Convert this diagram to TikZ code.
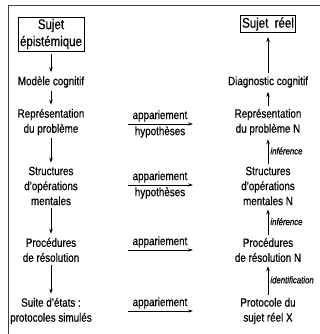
\documentclass[tikz,border=0pt]{standalone}
\usepackage{fontspec}
\setmainfont{Liberation Sans}[FakeStretch=0.82,FakeBold=0.5]
\usetikzlibrary{arrows.meta}
\begin{document}
\begin{tikzpicture}[x=1pt,y=-1pt,
  txt/.style={align=center,font=\fontsize{12}{15}\selectfont,inner sep=0pt},
  big/.style={align=center,font=\fontsize{14}{17}\selectfont,draw,line width=0.9pt,inner sep=2pt},
  arr/.style={-{Stealth[length=5pt,width=3.5pt]},line width=0.8pt,shorten <=3pt,shorten >=4pt},
  harr/.style={-{Stealth[length=5pt,width=3pt]},line width=0.6pt},
  lab/.style={font=\fontsize{9.5}{10}\selectfont\itshape,right,inner sep=2pt}]
\useasboundingbox (0,0) rectangle (320,334);
\clip (0,0) rectangle (320,334);
\draw[line width=1pt,black!75] (8,334) -- (8,6) -- (320,6);
% left column
\node[big] (se) at (51,34) {Sujet\\épistémique};
\node[txt] (mc) at (51,82) {Modèle cognitif};
\node[txt] (rp) at (51,122) {Représentation\\du problème};
\node[txt] (so) at (51,186) {Structures\\d'opérations\\mentales};
\node[txt] (pr) at (51,250) {Procédures\\de résolution};
\node[txt] (su) at (51,311) {Suite d'états :\\protocoles simulés};
\draw[arr] (se) -- (mc);
\draw[arr] (mc) -- (rp);
\draw[arr] (rp) -- (so);
\draw[arr] (so) -- (pr);
\draw[arr] (pr) -- (su);
% right column
\node[big] (sr) at (268,24) {Sujet~~réel};
\node[txt] (dc) at (268,82) {Diagnostic cognitif};
\node[txt] (rn) at (268,122) {Représentation\\du problème N};
\node[txt] (sn) at (268,186) {Structures\\d'opérations\\mentales N};
\node[txt] (pn) at (268,250) {Procédures\\de résolution N};
\node[txt] (px) at (268,311) {Protocole du\\sujet réel X};
\draw[arr] (dc) -- (sr);
\draw[arr] (rn) -- (dc);
\draw[arr] (sn) -- node[lab] {inférence} (rn);
\draw[arr] (pn) -- node[lab] {inférence} (sn);
\draw[arr] (px) -- node[lab] {identification} (pn);
% middle
\node[txt] (a1) at (160,116) {appariement};
\node[txt] (h1) at (160,132) {hypothèses};
\coordinate (m1a) at (128,124); \coordinate (m1b) at (193,124);
\draw[harr] (m1a) -- (m1b);
\node[txt] (a2) at (160,177) {appariement};
\node[txt] (h2) at (160,193) {hypothèses};
\coordinate (m2a) at (128,185); \coordinate (m2b) at (193,185);
\draw[harr] (m2a) -- (m2b);
\node[txt] (a3) at (160,242) {appariement};
\coordinate (m3a) at (128,250); \coordinate (m3b) at (193,250);
\draw[harr] (m3a) -- (m3b);
\node[txt] (a4) at (160,303) {appariement};
\coordinate (m4a) at (128,311); \coordinate (m4b) at (193,311);
\draw[harr] (m4a) -- (m4b);
\end{tikzpicture}
\end{document}
